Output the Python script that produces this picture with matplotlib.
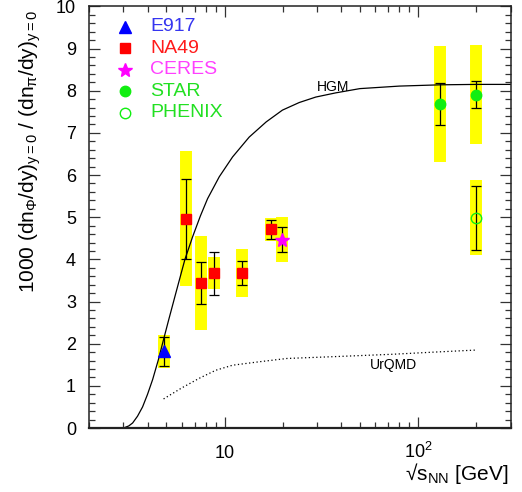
import matplotlib.pyplot as plt
from matplotlib.ticker import FixedLocator, MultipleLocator, FuncFormatter, NullFormatter

plt.rcParams['font.family'] = ['Liberation Sans', 'DejaVu Sans']
plt.rcParams['mathtext.fontset'] = 'custom'
plt.rcParams['mathtext.rm'] = 'Liberation Sans'
plt.rcParams['mathtext.it'] = 'Liberation Sans:italic'
plt.rcParams['mathtext.default'] = 'regular'

# phi/pi ratio at midrapidity: value, statistical and systematic errors
e917_x = [4.87]
e917_y = [1.82]
e917_stat = [0.34]
e917_sys = [0.39]

na49_x = [6.3, 7.6, 8.8, 12.3, 17.3]
na49_y = [4.96, 3.44, 3.67, 3.68, 4.71]
na49_stat = [0.95, 0.49, 0.51, 0.28, 0.23]
na49_sys = [1.60, 1.12, 0.38, 0.57, 0.28]

ceres_x = [19.7]
ceres_y = [4.47]
ceres_stat = [0.30]
ceres_sys = [0.54]

star_x = [130, 200]
star_y = [7.68, 7.91]
star_stat = [0.50, 0.31]
star_sys = [1.37, 1.17]

phenix_x = [200]
phenix_y = [4.99]
phenix_stat = [0.76]
phenix_sys = [0.89]

# model curves
hgm_x = [3.0, 3.2, 3.35, 3.55, 3.77, 4.0, 4.25, 4.55, 4.84, 5.14, 5.6, 6.24, 6.83,
         7.5, 8.17, 9.39, 11.0, 13.4, 16.4, 19.9, 24.3, 29.6, 37.6, 50, 80, 130, 200, 300]
hgm_y = [0.0, 0.05, 0.12, 0.28, 0.5, 0.8, 1.15, 1.62, 2.1, 2.56, 3.2, 4.0, 4.53,
         5.03, 5.44, 5.96, 6.43, 6.90, 7.26, 7.54, 7.72, 7.85, 7.95, 8.05, 8.11, 8.14, 8.15, 8.15]

urqmd_x = [4.84, 6.0, 7.4, 9.0, 11, 15, 21, 40, 74, 120, 200]
urqmd_y = [0.69, 0.95, 1.18, 1.37, 1.49, 1.57, 1.65, 1.70, 1.75, 1.80, 1.85]

yellow = '#ffff00'
green = '#11ee11'

fig = plt.figure(figsize=(5.22, 4.92), dpi=100)
ax = fig.add_axes([0.171, 0.130, 0.807, 0.857])
ax.set_xscale('log')
ax.set_xlim(2, 300)
ax.set_ylim(0, 10)

# systematic error boxes
for xs, ys, sy in [(e917_x, e917_y, e917_sys), (na49_x, na49_y, na49_sys),
                   (ceres_x, ceres_y, ceres_sys), (star_x, star_y, star_sys),
                   (phenix_x, phenix_y, phenix_sys)]:
    lo = [y - s for y, s in zip(ys, sy)]
    hi = [y + s for y, s in zip(ys, sy)]
    ax.vlines(xs, lo, hi, colors=yellow, linewidth=8.6, capstyle='butt', zorder=1)

ax.plot(hgm_x, hgm_y, color='black', lw=0.9, zorder=2)
ax.plot(urqmd_x, urqmd_y, color='black', lw=0.9, ls=(0, (1, 2)), zorder=2)
ax.text(30, 8.0, 'HGM', fontsize=10, va='baseline', ha='left')
ax.text(56, 1.41, 'UrQMD', fontsize=10, va='baseline', ha='left')

eb = dict(fmt='none', ecolor='black', elinewidth=0.9, capsize=3.6, capthick=0.9, zorder=3)
ax.errorbar(e917_x, e917_y, yerr=e917_stat, **eb)
ax.errorbar(na49_x, na49_y, yerr=na49_stat, **eb)
ax.errorbar(ceres_x, ceres_y, yerr=ceres_stat, **eb)
ax.errorbar(star_x, star_y, yerr=star_stat, **eb)
ax.errorbar(phenix_x, phenix_y, yerr=phenix_stat, **eb)

ax.plot(e917_x, e917_y, '^', color='blue', ms=9, zorder=4)
ax.plot(na49_x, na49_y, 's', color='red', ms=7.2, zorder=4)
ax.plot(ceres_x, ceres_y, '*', color='magenta', ms=10, zorder=4)
ax.plot(star_x, star_y, 'o', color=green, ms=7.5, zorder=4)
ax.plot(phenix_x, phenix_y, 'o', mfc='none', mec=green, mew=1.0, ms=7.5, zorder=4)

# legend
entries = [('^', 'blue', 'blue', 9, 'E917', '#3535f0'),
           ('s', 'red', 'red', 7.2, 'NA49', '#ff1a1a'),
           ('*', 'magenta', 'magenta', 10, 'CERES', '#ff40ff'),
           ('o', green, green, 7.5, 'STAR', '#22e022'),
           ('o', 'none', green, 7.5, 'PHENIX', '#22e022')]
for i, (m, fc, ec, ms, label, tc) in enumerate(entries):
    yy = 0.952 - i * 0.0512
    ax.plot([0.0847], [yy], m, mfc=fc, mec=ec, ms=ms, transform=ax.transAxes,
            clip_on=False)
    ax.text(0.144, yy, label, color=tc, fontsize=14, va='center', ha='left',
            transform=ax.transAxes)

# axes styling
for s in ax.spines.values():
    s.set_color('#222222')
    s.set_linewidth(1.1)
ax.spines['bottom'].set_linewidth(1.6)

ax.xaxis.set_major_locator(FixedLocator([10, 100]))
ax.xaxis.set_minor_locator(FixedLocator([2, 3, 4, 5, 6, 7, 8, 9,
                                         20, 30, 40, 50, 60, 70, 80, 90, 200, 300]))
ax.xaxis.set_major_formatter(FuncFormatter(lambda v, p: '10' if v < 50 else '$10^{2}$'))
ax.xaxis.set_minor_formatter(NullFormatter())
ax.yaxis.set_major_locator(MultipleLocator(1))
ax.yaxis.set_minor_locator(MultipleLocator(0.2))

ax.tick_params(which='both', direction='in', top=True, right=True, color='#333333', width=0.9)
ax.tick_params(which='major', length=8)
ax.tick_params(which='minor', length=4.3)
ax.tick_params(axis='x', which='major', pad=21.8, labelsize=13)
ax.tick_params(axis='y', which='major', pad=9.5, labelsize=13)
# put the x tick labels on a common baseline so 10 and 10^2 line up
for lbl in ax.get_xticklabels():
    lbl.set_va('baseline')

fig.text(30 / 522, 1 - 152 / 492,
         r'1000 (dn$_{\Phi}$/dy)$_{y=0}$ / (dn$_{\pi}$/dy)$_{y=0}$',
         rotation=90, ha='center', va='center', fontsize=15)
fig.text(508 / 522, 1 - 474 / 492, '√s$_{NN}$ [GeV]', ha='right', va='center', fontsize=15)

fig.savefig('out.png', dpi=100)
